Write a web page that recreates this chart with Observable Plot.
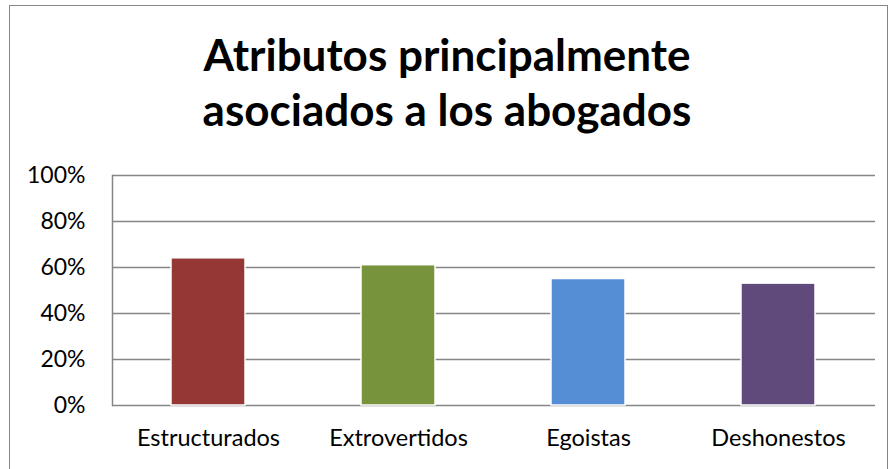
<!DOCTYPE html>
<html>
<head>
<meta charset="utf-8">
<script src="https://cdn.jsdelivr.net/npm/d3@7"></script>
<script src="https://cdn.jsdelivr.net/npm/@observablehq/plot@0.6"></script>
<style>
  html, body { margin: 0; padding: 0; background: #fff; }
  #wrap { position: relative; width: 894px; height: 469px; overflow: hidden; font-family: Lato, "Open Sans", sans-serif; }
  #border { position: absolute; left: 9px; top: 5px; width: 879px; height: 500px; border: 1.5px solid #868686; box-sizing: border-box; }
  #title { position: absolute; left: 0; width: 894px; top: 27px; text-align: center; font-weight: 700; font-size: 44px; line-height: 55px; color: #000; }
  #chart { position: absolute; left: 0; top: 0; }
</style>
</head>
<body>
<div id="wrap">
  <div id="border"></div>
  <div id="chart"></div>
  <div id="title">Atributos principalmente<br>asociados a los abogados</div>
</div>
<script>
const categories = ["Estructurados", "Extrovertidos", "Egoistas", "Deshonestos"];
const values = [0.64, 0.61, 0.55, 0.53];
const colors = ["#953735", "#77933C", "#558ED5", "#604A7B"];
const yTicks = [0, 0.2, 0.4, 0.6, 0.8, 1.0];

const data = categories.map((c, i) => ({category: c, value: values[i], color: colors[i]}));

const chart = Plot.plot({
  width: 894,
  height: 469,
  marginLeft: 112,
  marginRight: 19,
  marginTop: 175,
  marginBottom: 64,
  style: {fontFamily: "Lato, 'Open Sans', sans-serif", fontSize: "23px", color: "#000", background: "transparent"},
  x: {domain: categories, paddingInner: 0.61, paddingOuter: 0.305, label: null},
  y: {domain: [0, 1], label: null},
  marks: [
    Plot.gridY(yTicks, {stroke: "#868686", strokeWidth: 1.5, strokeOpacity: 1}),
    Plot.frame({anchor: "left", stroke: "#868686", strokeWidth: 1.5}),
    Plot.barY(data, {x: "category", y: "value", fill: "color", stroke: "#fff", strokeWidth: 1.5,
      style: "filter: drop-shadow(1px 1px 1.5px rgba(0,0,0,0.25))"}),
    Plot.axisY({ticks: yTicks, tickFormat: d => Math.round(d * 100) + "%", tickSize: 0, tickPadding: 27, fontSize: 23, label: null}),
    Plot.axisX({tickSize: 0, tickPadding: 24, fontSize: 23.5, label: null})
  ]
});
document.getElementById("chart").appendChild(chart);
</script>
</body>
</html>
